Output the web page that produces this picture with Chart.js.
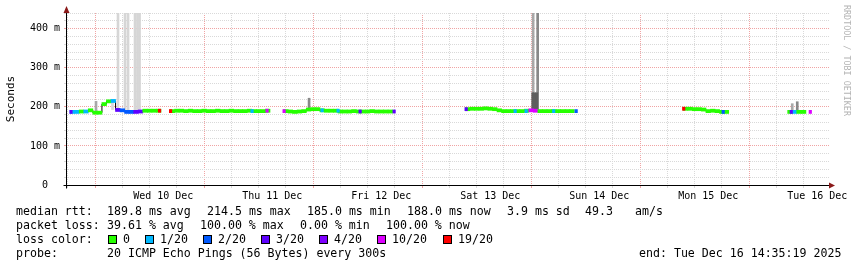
<!DOCTYPE html>
<html>
<head>
<meta charset="utf-8">
<script src="https://cdn.jsdelivr.net/npm/chart.js@4.4.1/dist/chart.umd.min.js"></script>
<style>
body { margin: 0; background: #fff; }
#wrap { position: relative; width: 857px; height: 267px; font-family: 'DejaVu Sans Mono', monospace; color: #000; }
#chart { position: absolute; left: 0; top: 0; }
.t { position: absolute; font-size: 11.6px; line-height: 14px; white-space: pre; }
.box { position: absolute; width: 7px; height: 7px; border: 1px solid #000; }
#rrd { position: absolute; left: 842px; top: 5px; writing-mode: vertical-rl; font-size: 8.4px; line-height: 9px; color: #b4b4b4; white-space: pre; }
</style>
</head>
<body>
<div id="wrap">
<canvas id="chart" width="857" height="267"></canvas>
<div id="rrd">RRDTOOL / TOBI OETIKER</div>

<div class="t" style="left:16px;top:204px">median rtt:</div>
<div class="t" style="left:107px;top:204px">189.8 ms avg</div>
<div class="t" style="left:207px;top:204px">214.5 ms max</div>
<div class="t" style="left:307px;top:204px">185.0 ms min</div>
<div class="t" style="left:407px;top:204px">188.0 ms now</div>
<div class="t" style="left:507px;top:204px">3.9 ms sd</div>
<div class="t" style="left:585px;top:204px">49.3</div>
<div class="t" style="left:635px;top:204px">am/s</div>

<div class="t" style="left:16px;top:218px">packet loss:</div>
<div class="t" style="left:107px;top:218px">39.61 % avg</div>
<div class="t" style="left:200px;top:218px">100.00 % max</div>
<div class="t" style="left:300px;top:218px">0.00 % min</div>
<div class="t" style="left:386px;top:218px">100.00 % now</div>

<div class="t" style="left:16px;top:232px">loss color:</div>
<div id="lossLegend"></div>

<div class="t" style="left:16px;top:246px">probe:</div>
<div class="t" style="left:107px;top:246px">20 ICMP Echo Pings (56 Bytes) every 300s</div>
<div class="t" style="left:639px;top:246px">end: Tue Dec 16 14:35:19 2025</div>
</div>

<script>
// x axis unit: hours, 0 = Wed 10 Dec 00:00
const xMin = -9.41;
const xMax = 158.59;

const dayLabels = ['Wed 10 Dec', 'Thu 11 Dec', 'Fri 12 Dec', 'Sat 13 Dec', 'Sun 14 Dec', 'Mon 15 Dec', 'Tue 16 Dec'];
const yTickLabels = ['0  ', '100 m', '200 m', '300 m', '400 m'];

const lossLabels = ['0', '1/20', '2/20', '3/20', '4/20', '10/20', '19/20'];
const lossColors = ['#26ff00', '#00b8ff', '#0059ff', '#5e00ff', '#7e00ff', '#dd00ff', '#ff0000'];

// median rtt (ms) per hour, loss = index into lossLabels
const medianHours = [
    -8, -7, -6, -5, -4, -3, -2, -1, 0, 1, 2, 3, 4, 5, 6, 7, 8, 9, 10, 11,
    14, 15, 16, 17, 18, 19, 20, 21, 22, 23, 24, 25, 26, 27, 28, 29, 30, 31, 32, 33, 34, 35,
    39, 40, 41, 42, 43, 44, 45, 46, 47, 48, 49, 50, 51, 52, 53, 54, 55, 56, 57, 58, 59, 60, 61, 62,
    79, 80, 81, 82, 83, 84, 85, 86, 87, 88, 89, 90, 91, 92, 93, 94, 95, 96, 97, 98, 99, 100, 101, 102,
    127, 128, 129, 130, 131, 132, 133, 134, 135, 136,
    150, 151, 152, 153
];
const medianMs = [
    187, 187, 188, 188, 191, 185, 185, 207, 214, 215, 192, 191, 187, 187, 187, 188, 190, 190, 190, 190,
    189, 190, 190, 189, 190, 189, 189, 190, 189, 189, 190, 189, 189, 190, 189, 189, 189, 190, 189, 189, 189, 190,
    189, 188, 187, 188, 189, 193, 194, 194, 191, 190, 190, 190, 188, 188, 188, 189, 188, 188, 188, 189, 188, 188, 188, 188,
    194, 195, 195, 195, 196, 195, 194, 191, 189, 189, 189, 189, 189, 190, 191, 190, 189, 189, 189, 189, 189, 189, 189, 189,
    195, 195, 194, 194, 193, 189, 190, 189, 187, 187,
    187, 187, 187, 187
];
const medianLoss = [
    1, 1, 0, 1, 0, 0, 0, 0, 0, 1, 3, 2, 2, 2, 3, 3, 0, 0, 0, 0,
    0, 0, 0, 0, 0, 0, 0, 0, 0, 0, 0, 0, 0, 0, 0, 0, 0, 0, 0, 0, 0, 0,
    0, 0, 0, 0, 0, 0, 0, 0, 0, 0, 0, 0, 0, 0, 0, 0, 0, 0, 0, 0, 0, 0, 0, 0,
    0, 0, 0, 0, 0, 0, 0, 0, 0, 0, 0, 0, 0, 0, 5, 5, 0, 0, 0, 0, 0, 0, 0, 0,
    0, 0, 0, 0, 0, 0, 0, 0, 0, 0,
    0, 1, 0, 0
];

// short loss marks at segment edges and single samples
const spotHours = [-8.31, 11.18, 13.61, 31.56, 34.86, 38.61, 46.98, 50.5, 55.35, 62.84, 78.7, 89.49, 91.91, 97.97, 102.92, 126.6, 135.3, 150.28, 154.47];
const spotMs = [187, 190, 189, 189, 190, 189, 191, 190, 188, 188, 194, 189, 189, 189, 189, 195, 187, 187, 187];
const spotLoss = [3, 6, 6, 1, 5, 5, 1, 1, 3, 3, 3, 1, 1, 1, 2, 6, 2, 3, 5];

// smoke (min..max of the pings), shade 0 light .. 3 dark
const smokeHours = [-2.8, 0.83, 2.04, 3.59, 4.25, 5.79, 6.34, 6.78, 44.11, 93.45, 94.44, 93.35, 93.8, 94.25, 150.5, 151.6];
const smokeLo = [186, 193, 190, 190, 190, 190, 190, 190, 193, 191, 191, 191, 191, 191, 189, 189];
const smokeHi = [214, 217, 440, 440, 440, 440, 440, 440, 222, 440, 440, 236, 236, 236, 208, 213];
const smokeShade = [1, 0, 0, 0, 0, 0, 0, 0, 2, 1, 2, 3, 3, 3, 1, 2];
const shadeColors = ['#d6d6d6', '#a8a8a8', '#888888', '#5e5e5e'];

const gridGray = '#d9d9d9';
const gridRed = '#f0a4a4';

// loss color legend
function buildLegend() {
    const lefts = [108, 145, 203, 261, 319, 377, 443];
    const el = document.getElementById('lossLegend');
    lossLabels.forEach((lbl, i) => {
        const b = document.createElement('div');
        b.className = 'box';
        b.style.left = lefts[i] + 'px';
        b.style.top = '235px';
        b.style.background = lossColors[i];
        el.appendChild(b);
        const t = document.createElement('div');
        t.className = 't';
        t.style.left = (lefts[i] + 15) + 'px';
        t.style.top = '232px';
        t.innerText = lbl;
        el.appendChild(t);
    });
}

// axis lines + arrows drawn on top, rrdtool style
const axisArrows = {
    id: 'axisArrows',
    afterDatasetsDraw(chart) {
        const { ctx, chartArea: a } = chart;
        const x0 = Math.round(a.left) + 0.5;
        const y0 = Math.round(a.bottom) + 0.5;
        ctx.save();
        ctx.strokeStyle = '#000';
        ctx.lineWidth = 1;
        ctx.beginPath();
        ctx.moveTo(x0, y0 + 3);
        ctx.lineTo(x0, a.top - 3);
        ctx.moveTo(x0 - 3, y0);
        ctx.lineTo(a.right + 2, y0);
        ctx.stroke();
        ctx.fillStyle = '#8b1a1a';
        ctx.beginPath();
        ctx.moveTo(x0, a.top - 7);
        ctx.lineTo(x0 - 3, a.top);
        ctx.lineTo(x0 + 3, a.top);
        ctx.closePath();
        ctx.fill();
        ctx.beginPath();
        ctx.moveTo(a.right + 6, y0);
        ctx.lineTo(a.right, y0 - 3);
        ctx.lineTo(a.right, y0 + 3);
        ctx.closePath();
        ctx.fill();
        ctx.restore();
    }
};

function drawChart() {
    const lossBars = medianHours.map((h, i) => ({ x: h, y: [medianMs[i] - 4, medianMs[i] + 4] }));
    const spotBars = spotHours.map((h, i) => ({ x: h, y: [spotMs[i] - 4, spotMs[i] + 4] }));
    const smokeBars = smokeHours.map((h, i) => ({ x: h, y: [smokeLo[i], smokeHi[i]] }));

    // thin black median line, broken at the gaps
    const linePts = [];
    medianHours.forEach((h, i) => {
        if (i > 0 && h - medianHours[i - 1] > 1) linePts.push({ x: h - 0.5, y: null });
        linePts.push({ x: h, y: medianMs[i] });
    });

    Chart.defaults.font.family = "'DejaVu Sans Mono', monospace";
    Chart.defaults.color = '#000';

    new Chart(document.getElementById('chart'), {
        type: 'bar',
        data: {
            datasets: [
                { type: 'bar', data: smokeBars, backgroundColor: smokeShade.map(s => shadeColors[s]), barThickness: 2, grouped: false, order: 3 },
                { type: 'line', data: linePts, borderColor: '#000', borderWidth: 1, stepped: 'middle', pointRadius: 0, spanGaps: false, order: 2 },
                { type: 'bar', data: lossBars, backgroundColor: medianLoss.map(l => lossColors[l]), barThickness: 4.6, grouped: false, order: 1 },
                { type: 'bar', data: spotBars, backgroundColor: spotLoss.map(l => lossColors[l]), barThickness: 2.5, grouped: false, order: 0 }
            ]
        },
        options: {
            responsive: false,
            animation: false,
            layout: { padding: { top: 13, right: 28, bottom: 0, left: 0 } },
            plugins: { legend: { display: false }, tooltip: { enabled: false } },
            scales: {
                x: {
                    type: 'linear',
                    min: xMin,
                    max: xMax,
                    offset: false,
                    afterBuildTicks: s => {
                        s.ticks = [];
                        for (let v = -6; v <= 156; v += 6) s.ticks.push({ value: v });
                    },
                    afterFit: s => { s.height = 82; },
                    ticks: {
                        autoSkip: false,
                        maxRotation: 0,
                        padding: 2,
                        font: { size: 10 },
                        callback: v => (v % 24 === 12 ? dayLabels[(v - 12) / 24] : '')
                    },
                    grid: {
                        color: c => (c.tick && c.tick.value % 24 === 0 ? gridRed : gridGray),
                        tickLength: 3
                    },
                    border: { display: false, dash: [1, 1] }
                },
                y: {
                    min: 0,
                    max: 440,
                    afterBuildTicks: s => {
                        s.ticks = [];
                        for (let v = 0; v <= 440; v += 20) s.ticks.push({ value: v });
                    },
                    afterFit: s => { s.width = 66; },
                    ticks: {
                        autoSkip: false,
                        padding: 4,
                        font: { size: 10 },
                        callback: v => (v % 100 === 0 ? yTickLabels[v / 100] : '')
                    },
                    grid: {
                        color: c => (c.tick && c.tick.value % 100 === 0 ? gridRed : gridGray),
                        tickLength: 2
                    },
                    border: { display: false, dash: [1, 1] },
                    title: { display: true, text: 'Seconds', font: { size: 11 }, padding: { top: 5, bottom: 4 } }
                }
            }
        },
        plugins: [axisArrows]
    });
}

buildLegend();
drawChart();
</script>
</body>
</html>
